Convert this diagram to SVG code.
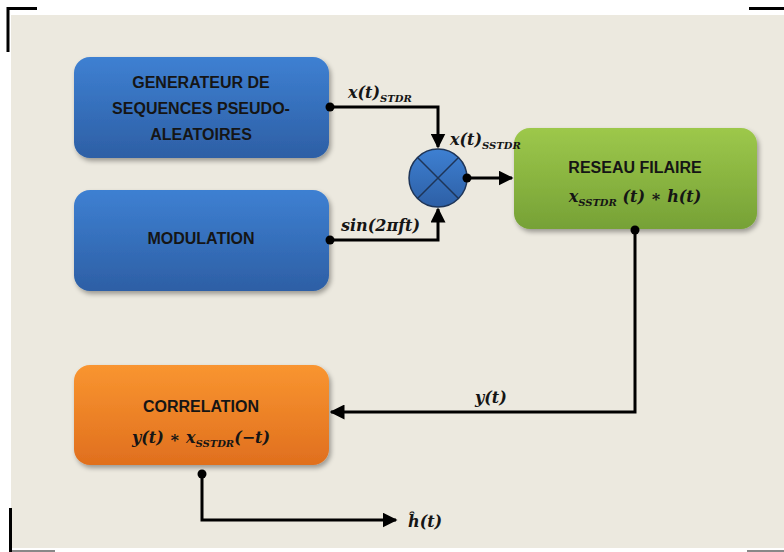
<svg xmlns="http://www.w3.org/2000/svg" width="784" height="552" viewBox="0 0 784 552">
  <defs>
    <linearGradient id="gBlue" x1="0" y1="0" x2="0" y2="1">
      <stop offset="0" stop-color="#3E80D2"/>
      <stop offset="1" stop-color="#2D5FA5"/>
    </linearGradient>
    <linearGradient id="gGreen" x1="0" y1="0" x2="0" y2="1">
      <stop offset="0" stop-color="#9DC84B"/>
      <stop offset="1" stop-color="#76A136"/>
    </linearGradient>
    <linearGradient id="gOrange" x1="0" y1="0" x2="0" y2="1">
      <stop offset="0" stop-color="#F99530"/>
      <stop offset="1" stop-color="#E06F1E"/>
    </linearGradient>
    <filter id="shadow" x="-10%" y="-10%" width="125%" height="130%">
      <feGaussianBlur in="SourceAlpha" stdDeviation="2.5"/>
      <feOffset dx="2" dy="3" result="b"/>
      <feComponentTransfer><feFuncA type="linear" slope="0.35"/></feComponentTransfer>
      <feMerge><feMergeNode/><feMergeNode in="SourceGraphic"/></feMerge>
    </filter>
    <marker id="arrow" viewBox="0 0 10 10" refX="9" refY="5" markerWidth="5" markerHeight="5" markerUnits="strokeWidth" orient="auto">
      <path d="M0,0 L10,5 L0,10 z" fill="#000"/>
    </marker>
    <style>
      .box { filter: url(#shadow); }
      .lbl { font-family: "Liberation Sans", Arial, sans-serif; font-weight: bold; font-size: 16px; fill: #151515; text-anchor: middle; }
      .math { font-family: "DejaVu Serif", "Liberation Serif", serif; font-weight: bold; font-style: italic; font-size: 16px; fill: #151515; }
      .sub { font-size: 10px; }
      .wire { fill: none; stroke: #000; stroke-width: 3; }
      .dot { fill: #000; }
    </style>
  </defs>

  <!-- page background and corner marks -->
  <rect x="0" y="0" width="784" height="552" fill="#FFFFFF"/>
  <rect x="11" y="15" width="773" height="533" fill="#ECE9DF"/>
  <path d="M37,8.5 H8 V52" fill="none" stroke="#000" stroke-width="3"/>
  <path d="M749,8.5 H784" fill="none" stroke="#000" stroke-width="3"/>
  <path d="M10.5,508 V552" fill="none" stroke="#000" stroke-width="3"/>
  <path d="M12,551 H55" fill="none" stroke="#888" stroke-width="2"/>
  <path d="M747,551 H784" fill="none" stroke="#888" stroke-width="2"/>

  <!-- sequence generator -->
  <g id="generateur">
    <rect class="box" x="74" y="57" width="255" height="101" rx="16" fill="url(#gBlue)"/>
    <text class="lbl" x="201" y="88">GENERATEUR DE</text>
    <text class="lbl" x="201" y="114">SEQUENCES PSEUDO-</text>
    <text class="lbl" x="201" y="140">ALEATOIRES</text>
  </g>

  <!-- modulation -->
  <g id="modulation">
    <rect class="box" x="74" y="190" width="255" height="101" rx="16" fill="url(#gBlue)"/>
    <text class="lbl" x="201" y="244">MODULATION</text>
  </g>

  <!-- multiplier -->
  <g id="multiplieur">
    <circle cx="438" cy="178" r="29" fill="url(#gBlue)" stroke="#1E3558" stroke-width="1.5"/>
    <path d="M417.5,157.5 L458.5,198.5 M458.5,157.5 L417.5,198.5" stroke="#1E3558" stroke-width="1.5"/>
  </g>

  <!-- wired network -->
  <g id="reseau">
    <rect class="box" x="514" y="128" width="243" height="101" rx="16" fill="url(#gGreen)"/>
    <text class="lbl" x="635" y="173">RESEAU FILAIRE</text>
    <text class="math" x="635" y="202" text-anchor="middle">x<tspan class="sub" dy="4">SSTDR</tspan><tspan dy="-4"> (t) ∗ h(t)</tspan></text>
  </g>

  <!-- correlation -->
  <g id="correlation">
    <rect class="box" x="74" y="365" width="255" height="100" rx="16" fill="url(#gOrange)"/>
    <text class="lbl" x="201" y="412">CORRELATION</text>
    <text class="math" x="201" y="443" text-anchor="middle">y(t) ∗ x<tspan class="sub" dy="4">SSTDR</tspan><tspan dy="-4">(−t)</tspan></text>
  </g>

  <!-- connectors, drawn last so their labels sit on top of the boxes -->
  <g id="connectors">
    <path class="wire" d="M330,107 H438 V147" marker-end="url(#arrow)"/>
    <path class="wire" d="M330,240 H438 V209" marker-end="url(#arrow)"/>
    <path class="wire" d="M467,178 H512" marker-end="url(#arrow)"/>
    <path class="wire" d="M635,229 V412 H331" marker-end="url(#arrow)"/>
    <path class="wire" d="M202,474 V520 H396" marker-end="url(#arrow)"/>
    <circle class="dot" cx="330" cy="107" r="4.5"/>
    <circle class="dot" cx="330" cy="240" r="4.5"/>
    <circle class="dot" cx="467" cy="178" r="4.5"/>
    <circle class="dot" cx="635" cy="230" r="4.5"/>
    <circle class="dot" cx="202" cy="474" r="4.5"/>
    <text class="math" x="348" y="98">x(t)<tspan class="sub" dy="4">STDR</tspan></text>
    <text class="math" x="450" y="145">x(t)<tspan class="sub" dy="4">SSTDR</tspan></text>
    <text class="math" x="341" y="231">sin(2πft)</text>
    <text class="math" x="475" y="403">y(t)</text>
    <text class="math" x="408" y="527">ĥ(t)</text>
  </g>
</svg>
